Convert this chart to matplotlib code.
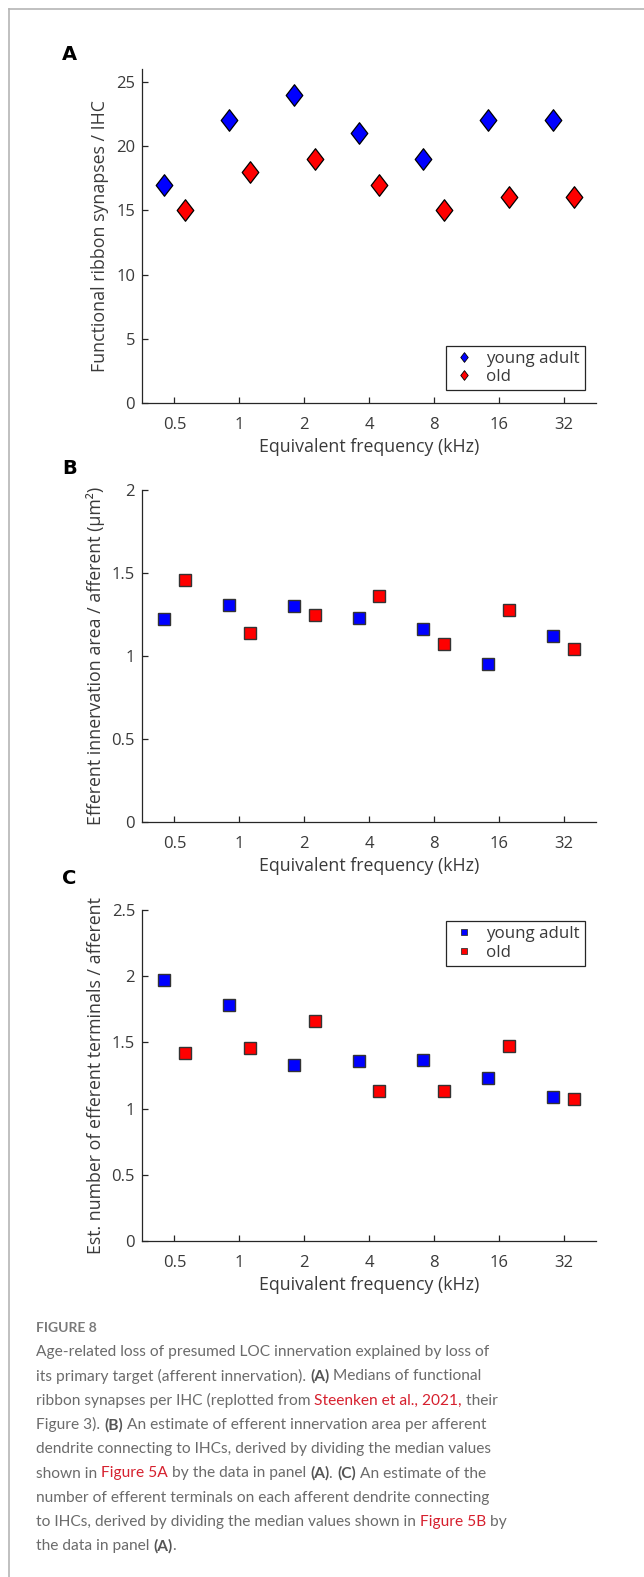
import numpy as np
import matplotlib
matplotlib.use("Agg")
import matplotlib.pyplot as plt
from matplotlib.path import Path
from matplotlib.lines import Line2D

# data
freqs = [0.5, 1, 2, 4, 8, 16, 32]
freq_labels = ["0.5", "1", "2", "4", "8", "16", "32"]

ribbons_young = [17, 22, 24, 21, 19, 22, 22]
ribbons_old = [15, 18, 19, 17, 15, 16, 16]

area_young = [1.22, 1.31, 1.30, 1.23, 1.16, 0.95, 1.12]
area_old = [1.46, 1.14, 1.25, 1.36, 1.07, 1.28, 1.04]

terminals_young = [1.97, 1.78, 1.33, 1.36, 1.37, 1.23, 1.09]
terminals_old = [1.42, 1.46, 1.66, 1.13, 1.13, 1.47, 1.07]

plt.rcParams['font.family'] = ['Open Sans', 'DejaVu Sans']

AX_COL = '#262626'
TXT_COL = '#3a3a3a'
BLUE = '#0000ff'
RED = '#ff0000'

# tall diamond like the MATLAB one in panel A
diamond = Path([(0, 1), (0.77, 0), (0, -1), (-0.77, 0), (0, 1)],
               [Path.MOVETO, Path.LINETO, Path.LINETO, Path.LINETO, Path.CLOSEPOLY])

fig = plt.figure(figsize=(6.44, 15.77), dpi=100)

# frame lines of the figure box
fig.add_artist(Line2D([9 / 644, 1], [1 - 9 / 1577, 1 - 9 / 1577], color='#b5b5b5', lw=1.2))
fig.add_artist(Line2D([9 / 644, 9 / 644], [0, 1 - 9 / 1577], color='#b5b5b5', lw=1.2))

x = np.log2(freqs)
shift = 0.16


def style_axes(ax, ylim, yticks, ylabel):
    ax.set_xlim(x[0] - 0.5, x[-1] + 0.5)
    ax.set_ylim(*ylim)
    ax.set_xticks(x)
    ax.set_xticklabels(freq_labels)
    ax.set_yticks(yticks)
    ax.set_yticklabels([f"{t:g}" for t in yticks])
    for s in ['top', 'right']:
        ax.spines[s].set_visible(False)
    for s in ['left', 'bottom']:
        ax.spines[s].set_color(AX_COL)
        ax.spines[s].set_linewidth(0.9)
    ax.tick_params(direction='in', length=4, width=0.9, color=AX_COL,
                   labelcolor=TXT_COL, labelsize=12)
    ax.tick_params(axis='x', pad=10)
    ax.tick_params(axis='y', pad=5)
    ax.set_xlabel("Equivalent frequency (kHz)", fontsize=12.8, color=TXT_COL, labelpad=4)
    ax.set_ylabel(ylabel, fontsize=12.8, color=TXT_COL, labelpad=5)


def add_legend(ax, handles, loc, anchor):
    leg = ax.legend(handles, ["young adult", "old"], loc=loc, bbox_to_anchor=anchor,
                    borderaxespad=0, fancybox=False, fontsize=12.2, edgecolor=AX_COL,
                    framealpha=1, handletextpad=0.5, borderpad=0.3, labelspacing=0.15,
                    handlelength=1.6)
    leg.get_frame().set_linewidth(0.9)
    for t in leg.get_texts():
        t.set_color(TXT_COL)
    return leg


# panel A
axA = fig.add_axes([142 / 644, 1 - 403 / 1577, 454 / 644, 334 / 1577])
axA.plot(x - shift, ribbons_young, linestyle='none', marker=diamond, ms=15.5,
         mfc=BLUE, mec='black', mew=0.9)
axA.plot(x + shift, ribbons_old, linestyle='none', marker=diamond, ms=15.5,
         mfc=RED, mec='black', mew=0.9)
style_axes(axA, (0, 26), [0, 5, 10, 15, 20, 25], "Functional ribbon synapses / IHC")
hA = [Line2D([], [], linestyle='none', marker=diamond, ms=7, mfc=BLUE, mec='black', mew=0.6),
      Line2D([], [], linestyle='none', marker=diamond, ms=7, mfc=RED, mec='black', mew=0.6)]
add_legend(axA, hA, 'lower right', (0.976, 0.038))

# panel B
axB = fig.add_axes([142 / 644, 1 - 822 / 1577, 454 / 644, 332 / 1577])
axB.plot(x - shift, area_young, linestyle='none', marker='s', ms=9,
         mfc=BLUE, mec='#333333', mew=1.0)
axB.plot(x + shift, area_old, linestyle='none', marker='s', ms=9,
         mfc=RED, mec='#333333', mew=1.0)
style_axes(axB, (0, 2), [0, 0.5, 1, 1.5, 2],
           "Efferent innervation area / afferent (\u03bcm\u00b2)")

# panel C
axC = fig.add_axes([142 / 644, 1 - 1241 / 1577, 454 / 644, 331 / 1577])
axC.plot(x - shift, terminals_young, linestyle='none', marker='s', ms=9,
         mfc=BLUE, mec='#333333', mew=1.0)
axC.plot(x + shift, terminals_old, linestyle='none', marker='s', ms=9,
         mfc=RED, mec='#333333', mew=1.0)
style_axes(axC, (0, 2.5), [0, 0.5, 1, 1.5, 2, 2.5],
           "Est. number of efferent terminals / afferent")
hC = [Line2D([], [], linestyle='none', marker='s', ms=4.5, mfc=BLUE, mec='#333333', mew=0.6),
      Line2D([], [], linestyle='none', marker='s', ms=4.5, mfc=RED, mec='#333333', mew=0.6)]
add_legend(axC, hC, 'upper right', (0.976, 0.967))

# panel letters
for lab, ypx in [("A", 55), ("B", 468), ("C", 879)]:
    fig.text(62 / 644, 1 - ypx / 1577, lab, fontsize=14, fontweight='bold',
             family='DejaVu Sans', va='center', ha='left', color='black')

# caption
CAP_FONT = ['Lato', 'DejaVu Sans']
CAP_GRAY = '#6b6b6b'
CAP_RED = '#d6202e'
cap_fs = 11.2

fig.text(36 / 644, 1 - 1328 / 1577, "FIGURE 8", fontsize=10, fontweight='bold',
         family=CAP_FONT, color='#7a7a7a', va='center', ha='left')

caption_lines = [
    [("Age-related loss of presumed LOC innervation explained by loss of", 'n')],
    [("its primary target (afferent innervation). ", 'n'), ("(A)", 'b'),
     (" Medians of functional", 'n')],
    [("ribbon synapses per IHC (replotted from ", 'n'), ("Steenken et al., 2021,", 'r'),
     (" their", 'n')],
    [("Figure 3). ", 'n'), ("(B)", 'b'),
     (" An estimate of efferent innervation area per afferent", 'n')],
    [("dendrite connecting to IHCs, derived by dividing the median values", 'n')],
    [("shown in ", 'n'), ("Figure 5A", 'r'), (" by the data in panel ", 'n'), ("(A)", 'b'),
     (". ", 'n'), ("(C)", 'b'), (" An estimate of the", 'n')],
    [("number of efferent terminals on each afferent dendrite connecting", 'n')],
    [("to IHCs, derived by dividing the median values shown in ", 'n'), ("Figure 5B", 'r'),
     (" by", 'n')],
    [("the data in panel ", 'n'), ("(A)", 'b'), (".", 'n')],
]

renderer = fig.canvas.get_renderer()


def text_width(s, weight):
    # measure with a bar appended so edge spaces are counted
    t1 = fig.text(0, 0, s + "|", fontsize=cap_fs, family=CAP_FONT, fontweight=weight)
    t2 = fig.text(0, 0, "|", fontsize=cap_fs, family=CAP_FONT, fontweight=weight)
    w = t1.get_window_extent(renderer).width - t2.get_window_extent(renderer).width
    t1.remove()
    t2.remove()
    return w


y0 = 1352
for i, line in enumerate(caption_lines):
    xpx = 36
    ypx = y0 + i * 24.3
    for seg, kind in line:
        weight = 'bold' if kind == 'b' else 'normal'
        color = CAP_RED if kind == 'r' else ('#555555' if kind == 'b' else CAP_GRAY)
        fig.text(xpx / 644, 1 - ypx / 1577, seg, fontsize=cap_fs, family=CAP_FONT,
                 fontweight=weight, color=color, va='center', ha='left')
        xpx += text_width(seg, weight)

fig.savefig("out.png", dpi=100)
